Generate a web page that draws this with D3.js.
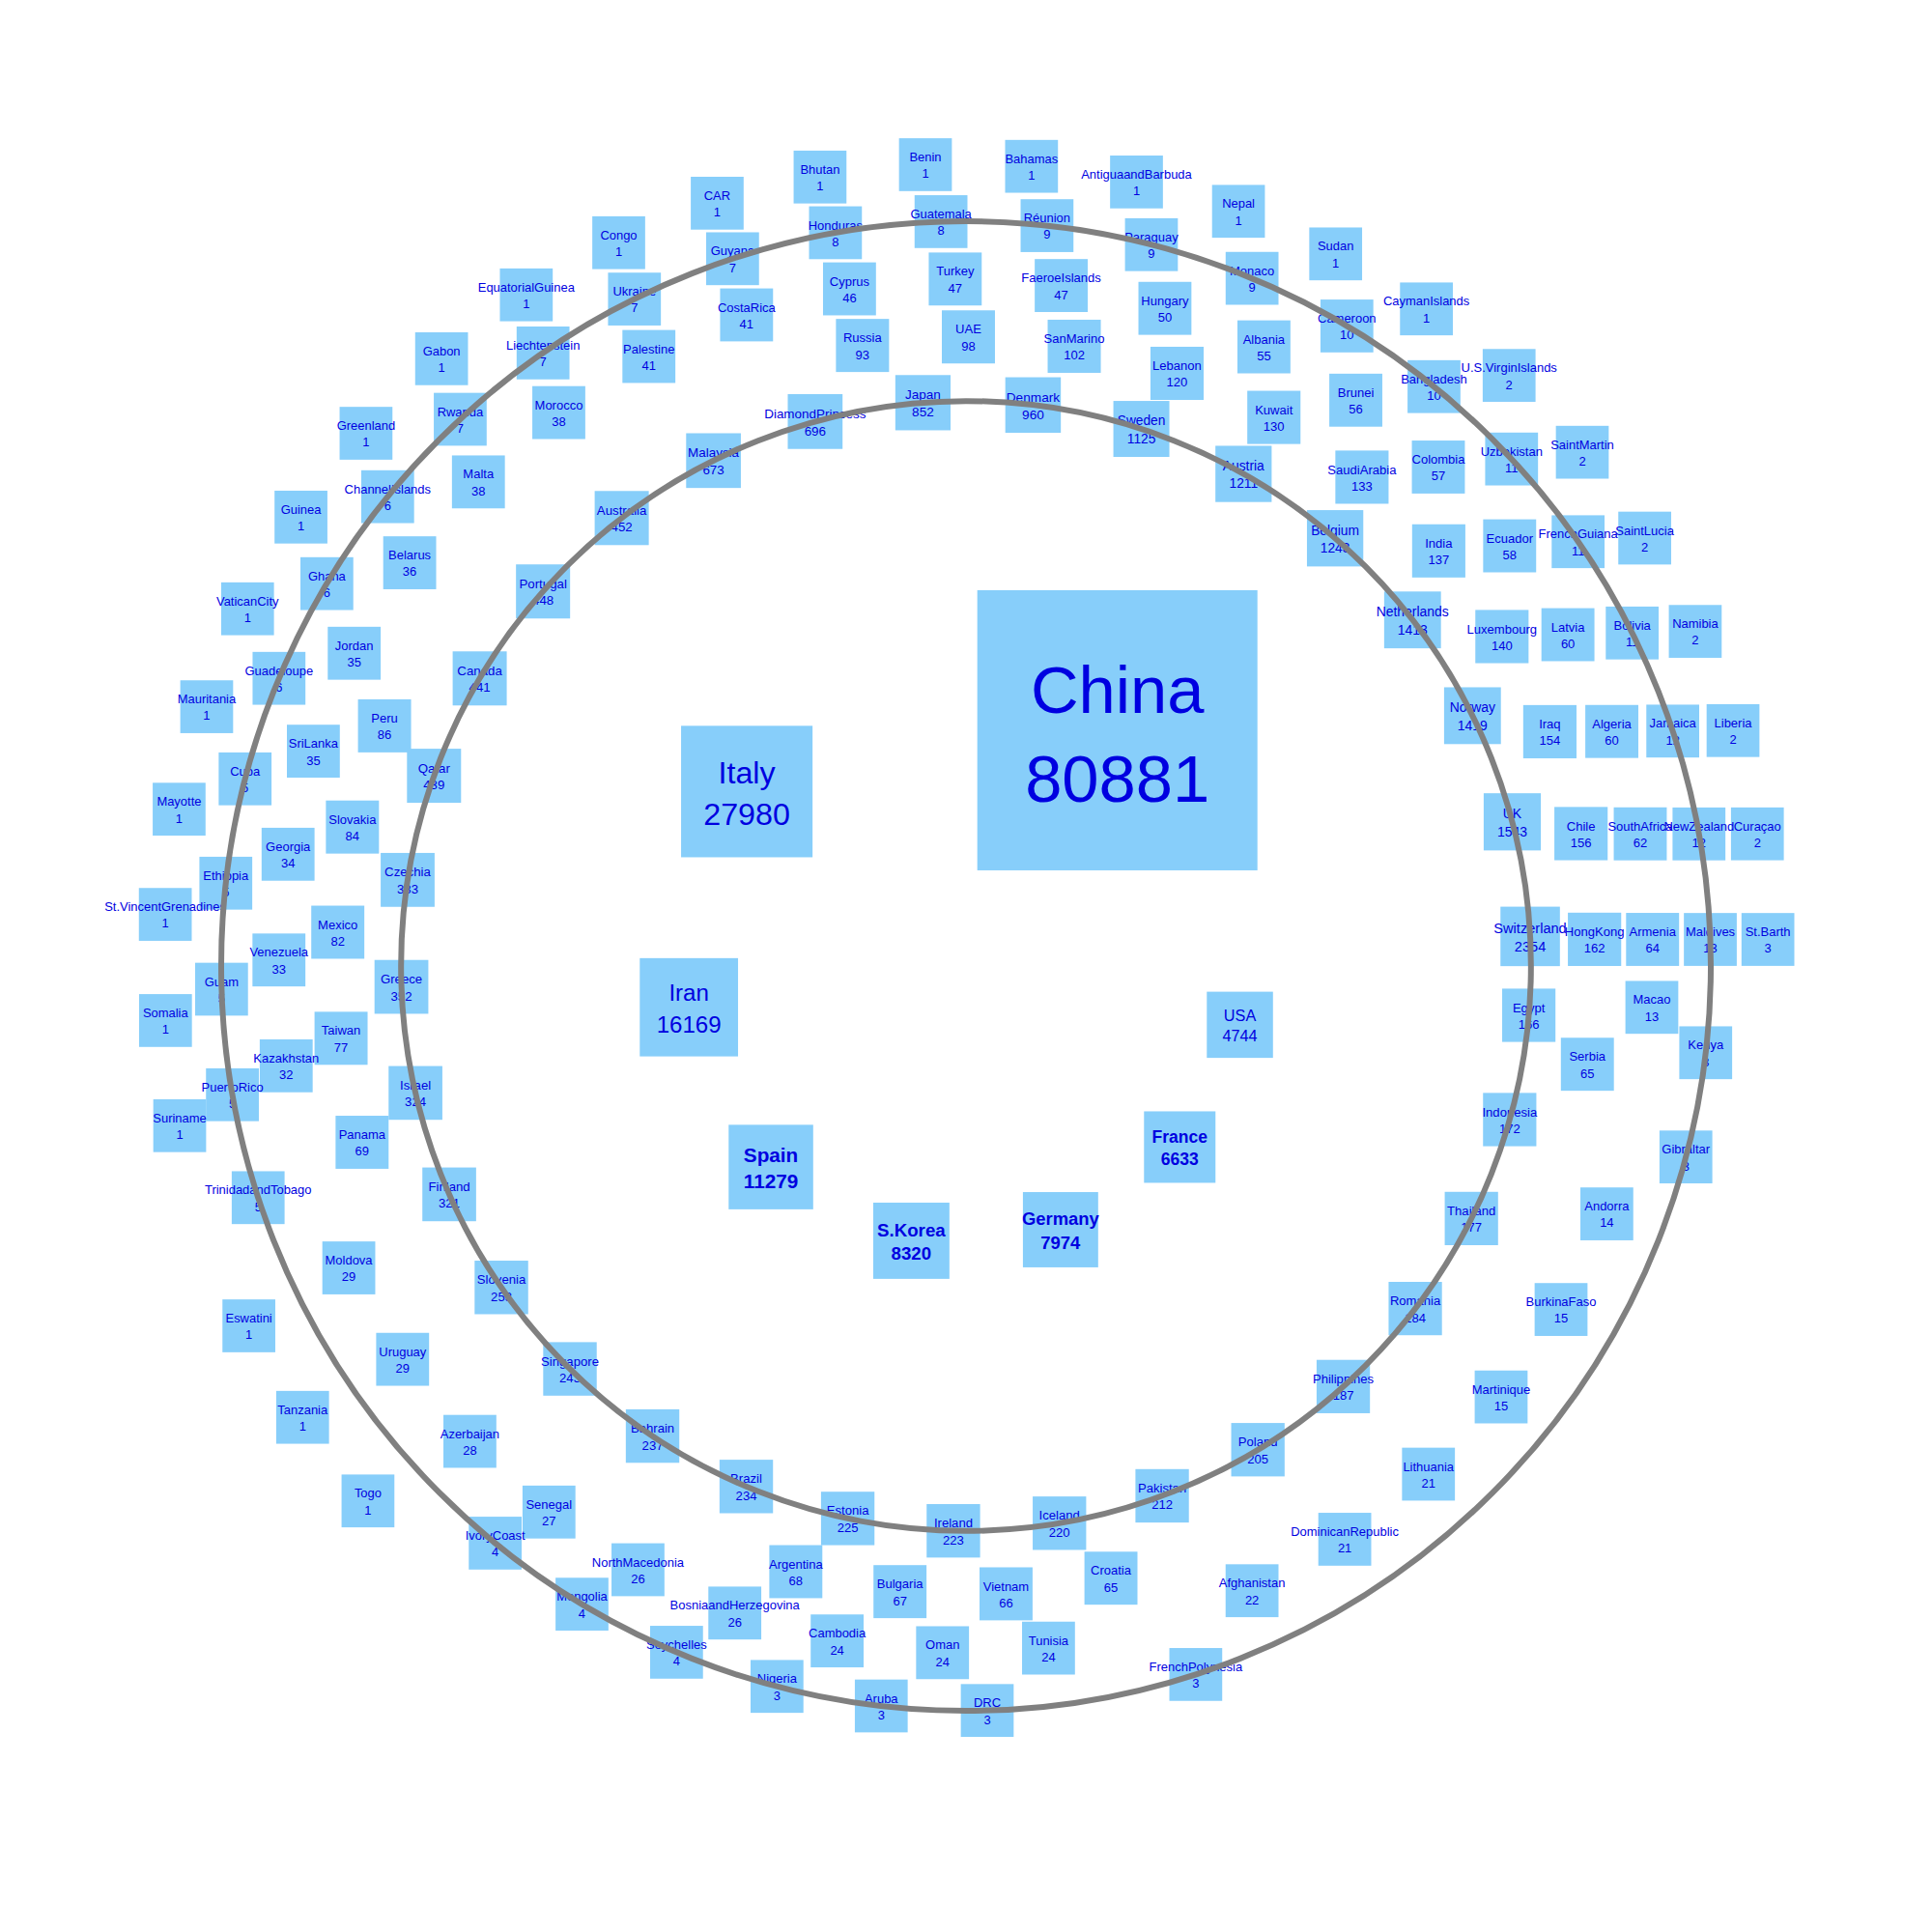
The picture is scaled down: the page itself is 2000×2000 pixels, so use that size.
<!DOCTYPE html>
<html><head><meta charset="utf-8">
<script src="https://cdn.jsdelivr.net/npm/d3@7"></script>
<style>body{margin:0;background:#fff}svg{display:block}</style>
</head><body>
<script>
const countries = [
"China","Italy","Iran","Spain","S.Korea","Germany","France","USA",
"Switzerland","UK","Norway","Netherlands","Belgium","Austria","Sweden","Denmark","Japan","DiamondPrincess","Malaysia","Australia","Portugal","Canada","Qatar","Czechia","Greece","Israel","Finland","Slovenia","Singapore","Bahrain","Brazil","Estonia","Ireland","Iceland","Pakistan","Poland","Philippines","Romania","Thailand","Indonesia","Egypt",
"HongKong","Chile","Iraq","Luxembourg","India","SaudiArabia","Kuwait","Lebanon","SanMarino","UAE","Russia","Peru","Slovakia","Mexico","Taiwan","Panama","Argentina","Bulgaria","Vietnam","Croatia","Serbia",
"Armenia","SouthAfrica","Algeria","Latvia","Ecuador","Colombia","Brunei","Albania","Hungary","FaeroeIslands","Turkey","Cyprus","CostaRica","Palestine","Morocco","Malta","Belarus","Jordan","SriLanka","Georgia","Venezuela","Kazakhstan","Moldova","Uruguay","Azerbaijan","Senegal","NorthMacedonia","BosniaandHerzegovina","Cambodia","Oman","Tunisia","Afghanistan","DominicanRepublic","Lithuania","Martinique","BurkinaFaso","Andorra","Macao",
"Maldives","NewZealand","Jamaica","Bolivia","FrenchGuiana","Uzbekistan","Bangladesh","Cameroon","Monaco","Paraguay","Réunion","Guatemala","Honduras","Guyana","Ukraine","Liechtenstein","Rwanda","ChannelIslands","Ghana","Guadeloupe","Cuba","Ethiopia","Guam","PuertoRico","TrinidadandTobago","IvoryCoast","Mongolia","Seychelles","Nigeria","Aruba","DRC","FrenchPolynesia","Gibraltar","Kenya",
"St.Barth","Curaçao","Liberia","Namibia","SaintLucia","SaintMartin","U.S.VirginIslands","CaymanIslands","Sudan","Nepal","AntiguaandBarbuda","Bahamas","Benin","Bhutan","CAR","Congo","EquatorialGuinea","Gabon","Greenland","Guinea","VaticanCity","Mauritania","Mayotte","St.VincentGrenadines","Somalia","Suriname","Eswatini","Tanzania","Togo"
];
const cases = [
80881,27980,16169,11279,8320,7974,6633,4744,
2354,1543,1419,1413,1243,1211,1125,960,852,696,673,452,448,441,439,383,352,324,321,253,243,237,234,225,223,220,212,205,187,184,177,172,166,
162,156,154,140,137,133,130,120,102,98,93,86,84,82,77,69,68,67,66,65,65,
64,62,60,60,58,57,56,55,50,47,47,46,41,41,38,38,36,35,35,34,33,32,29,29,28,27,26,26,24,24,24,22,21,21,15,15,14,13,
13,12,12,11,11,11,10,10,9,9,9,8,8,7,7,7,7,6,6,6,5,5,5,5,5,4,4,4,3,3,3,3,3,3,
3,2,2,2,2,2,2,1,1,1,1,1,1,1,1,1,1,1,1,1,1,1,1,1,1,1,1,1,1
];
const boldLabels = ["Spain","S.Korea","Germany","France"];

// ---- layout settings (concentric rings of squares, largest first) ----
const ringSizes   = [8, 33, 21, 38, 34, 29];          // squares per ring
const ringSkips   = [[], [], [11,12,13,14,15,21,22,23,24,25,30,31,32,33,34,35],
                     [22,32,39], [25,26,27,34,36,37,38,39,40,41], [26]]; // empty slots
const ringSpacing = [1, 0.996, 1.0013, 1.0033, 1.0045, 1.0048];
const GAP = 4.85;

const W = 2000, H = 2000;
const x = d3.scaleLinear().domain([-1000, 1000]).range([0, W]);
const y = d3.scaleLinear().domain([-1000, 1000]).range([H, 0]);
const side = d3.scaleLinear().domain([0, d3.max(cases)]).range([54.7, 290]);

const items = countries.map((c, i) => ({name: c, value: cases[i], s: side(cases[i])}))
  .sort((a, b) => b.value - a.value);

const radii = [];
let idx = 0, r = 0, prevMax = 0;
ringSizes.forEach((n, k) => {
  const members = items.slice(idx, idx + n); idx += n;
  r = k === 0 ? members[0].s : r + prevMax + GAP;
  radii.push(r);
  const f = ringSpacing[k];
  let ang = k === 0 ? members[0].s / r : members[0].s / (2 * r) * f;
  let slot = 0, prev = null;
  members.forEach((it, j) => {
    if (j > 0) { ang += (prev.s + it.s) / r * f; slot++; }
    while (ringSkips[k].includes(slot)) { ang += 2 * it.s / r * f; slot++; }
    it.px = r * Math.cos(ang); it.py = r * Math.sin(ang);
    prev = it;
  });
  prevMax = d3.max(members, d => d.s);
});

const svg = d3.select("body").append("svg").attr("width", W).attr("height", H)
  .style("font-family", "'Liberation Sans', Arial, sans-serif");
svg.append("rect").attr("width", W).attr("height", H).attr("fill", "#fff");

svg.append("g").selectAll("rect").data(items).join("rect")
  .attr("x", d => x(d.px) - d.s / 2).attr("y", d => y(d.py) - d.s / 2)
  .attr("width", d => d.s).attr("height", d => d.s)
  .attr("fill", "#87CEFA");

const labels = svg.append("g").selectAll("g").data(items).join("g")
  .attr("font-size", d => (d.s * 0.237).toFixed(2) + "px")
  .attr("font-weight", d => boldLabels.includes(d.name) ? "bold" : "normal")
  .attr("fill", "#0000E0").attr("text-anchor", "middle");
labels.append("text").attr("x", d => x(d.px)).attr("y", d => y(d.py))
  .attr("dy", "-0.26em").text(d => d.name);
labels.append("text").attr("x", d => x(d.px)).attr("y", d => y(d.py))
  .attr("dy", "1.07em").text(d => d.value);

svg.append("g").selectAll("circle").data([radii[1], radii[4]]).join("circle")
  .attr("cx", x(0)).attr("cy", y(0)).attr("r", d => d)
  .attr("fill", "none").attr("stroke", "#808080").attr("stroke-width", 6);
</script>
</body></html>
